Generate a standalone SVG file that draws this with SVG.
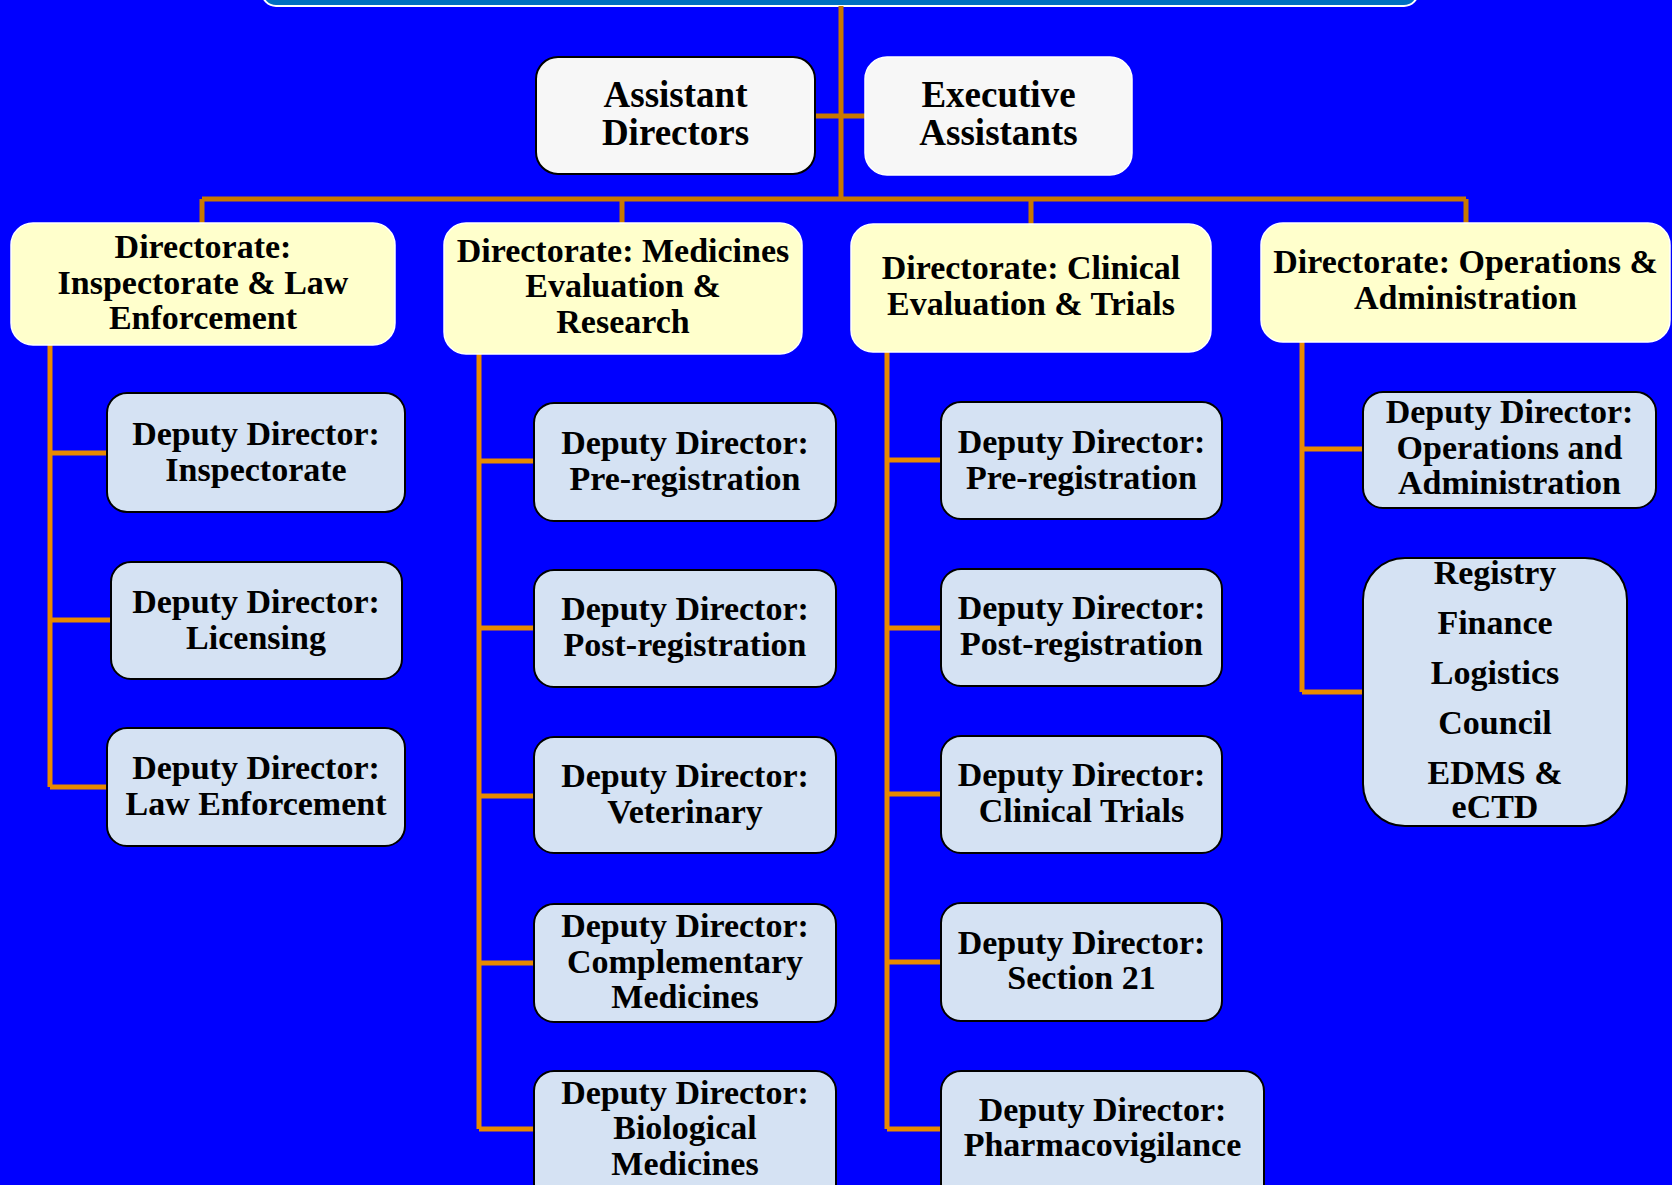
<svg xmlns="http://www.w3.org/2000/svg" width="1672" height="1185" viewBox="0 0 1672 1185">
<style>
text{font-family:"Liberation Serif","Times New Roman",serif;font-weight:bold;font-size:34px;fill:#000;text-anchor:middle}
.big{font-size:37px}
.up{stroke:#C87800;stroke-width:5;fill:none}
.lo{stroke:#E88A00;stroke-width:5;fill:none}
.dir{fill:#FFFFCC;stroke:#FFFFFF;stroke-width:1.5}
.dep{fill:#D5E2F3;stroke:#000;stroke-width:2}
.asst{fill:#F7F7F7}
</style>
<rect x="0" y="0" width="1672" height="1185" fill="#0000FF"/>
<g id="top">
<rect x="262" y="-40" width="1156" height="46" rx="14" fill="#0070C0" stroke="#FFFFFF" stroke-width="2"/>
</g>
<g id="connectors">
<path class="up" d="M841 6V199M815 116H865M202 199H1466M202 199V223M622 199V223M1031 199V224M1466 199V223"/>
<path class="lo" d="M50 344V787M50 453H107M50 620H111M50 787H107"/>
<path class="lo" d="M479 354V1129M479 461H534M479 628H534M479 796H534M479 963H534M479 1129H534"/>
<path class="lo" d="M887 352V1129M887 460H941M887 628H941M887 794H941M887 962H941M887 1129H941"/>
<path class="lo" d="M1302 342V692M1302 449H1363M1302 692H1363"/>
</g>
<g id="assistant-directors">
<rect class="asst" x="536" y="57" width="279" height="117" rx="22" stroke="#000" stroke-width="2"/>
<text class="big" x="675.5" y="107">Assistant</text>
<text class="big" x="675.5" y="145">Directors</text>
</g>
<g id="executive-assistants">
<rect class="asst" x="865" y="57" width="267" height="118" rx="22" stroke="#FFFFFF" stroke-width="1.5"/>
<text class="big" x="998.5" y="107">Executive</text>
<text class="big" x="998.5" y="145">Assistants</text>
</g>
<g id="dir-inspectorate">
<rect class="dir" x="11" y="223" width="384" height="122" rx="22"/>
<text x="203" y="258">Directorate:</text>
<text x="203" y="294">Inspectorate &amp; Law</text>
<text x="203" y="329">Enforcement</text>
</g>
<g id="dir-medicines">
<rect class="dir" x="444" y="223" width="358" height="131" rx="22"/>
<text x="623" y="262">Directorate: Medicines</text>
<text x="623" y="297">Evaluation &amp;</text>
<text x="623" y="333">Research</text>
</g>
<g id="dir-clinical">
<rect class="dir" x="851" y="224" width="360" height="128" rx="22" stroke="#000" stroke-width="2"/>
<text x="1031" y="279">Directorate: Clinical</text>
<text x="1031" y="315">Evaluation &amp; Trials</text>
</g>
<g id="dir-operations">
<rect class="dir" x="1261" y="223" width="409" height="119" rx="22"/>
<text x="1465.5" y="273">Directorate: Operations &amp;</text>
<text x="1465.5" y="309">Administration</text>
</g>
<g id="dd-inspectorate">
<rect class="dep" x="107" y="393" width="298" height="119" rx="20"/>
<text x="256" y="445">Deputy Director:</text>
<text x="256" y="481">Inspectorate</text>
</g>
<g id="dd-licensing">
<rect class="dep" x="111" y="562" width="291" height="117" rx="20"/>
<text x="256" y="613">Deputy Director:</text>
<text x="256" y="649">Licensing</text>
</g>
<g id="dd-law">
<rect class="dep" x="107" y="728" width="298" height="118" rx="20"/>
<text x="256" y="779">Deputy Director:</text>
<text x="256" y="815">Law Enforcement</text>
</g>
<g id="dd-prereg-m">
<rect class="dep" x="534" y="403" width="302" height="118" rx="20"/>
<text x="685" y="454">Deputy Director:</text>
<text x="685" y="490">Pre-registration</text>
</g>
<g id="dd-postreg-m">
<rect class="dep" x="534" y="570" width="302" height="117" rx="20"/>
<text x="685" y="620">Deputy Director:</text>
<text x="685" y="656">Post-registration</text>
</g>
<g id="dd-veterinary">
<rect class="dep" x="534" y="737" width="302" height="116" rx="20"/>
<text x="685" y="787">Deputy Director:</text>
<text x="685" y="823">Veterinary</text>
</g>
<g id="dd-complementary">
<rect class="dep" x="534" y="904" width="302" height="118" rx="20"/>
<text x="685" y="937">Deputy Director:</text>
<text x="685" y="973">Complementary</text>
<text x="685" y="1008">Medicines</text>
</g>
<g id="dd-biological">
<rect class="dep" x="534" y="1071" width="302" height="140" rx="20"/>
<text x="685" y="1104">Deputy Director:</text>
<text x="685" y="1139">Biological</text>
<text x="685" y="1175">Medicines</text>
</g>
<g id="dd-prereg-c">
<rect class="dep" x="941" y="402" width="281" height="117" rx="20"/>
<text x="1081.5" y="453">Deputy Director:</text>
<text x="1081.5" y="489">Pre-registration</text>
</g>
<g id="dd-postreg-c">
<rect class="dep" x="941" y="569" width="281" height="117" rx="20"/>
<text x="1081.5" y="619">Deputy Director:</text>
<text x="1081.5" y="655">Post-registration</text>
</g>
<g id="dd-clinical-trials">
<rect class="dep" x="941" y="736" width="281" height="117" rx="20"/>
<text x="1081.5" y="786">Deputy Director:</text>
<text x="1081.5" y="822">Clinical Trials</text>
</g>
<g id="dd-section21">
<rect class="dep" x="941" y="903" width="281" height="118" rx="20"/>
<text x="1081.5" y="954">Deputy Director:</text>
<text x="1081.5" y="989">Section 21</text>
</g>
<g id="dd-pharmacovigilance">
<rect class="dep" x="941" y="1071" width="323" height="140" rx="20"/>
<text x="1102.5" y="1121">Deputy Director:</text>
<text x="1102.5" y="1156">Pharmacovigilance</text>
</g>
<g id="dd-operations">
<rect class="dep" x="1363" y="392" width="293" height="116" rx="20"/>
<text x="1509.5" y="423">Deputy Director:</text>
<text x="1509.5" y="459">Operations and</text>
<text x="1509.5" y="494">Administration</text>
</g>
<g id="registry-group">
<rect class="dep" x="1363" y="558" width="264" height="268" rx="42"/>
<text x="1495" y="584">Registry</text>
<text x="1495" y="634">Finance</text>
<text x="1495" y="684">Logistics</text>
<text x="1495" y="734">Council</text>
<text x="1495" y="784">EDMS &amp;</text>
<text x="1495" y="818">eCTD</text>
</g>
</svg>
